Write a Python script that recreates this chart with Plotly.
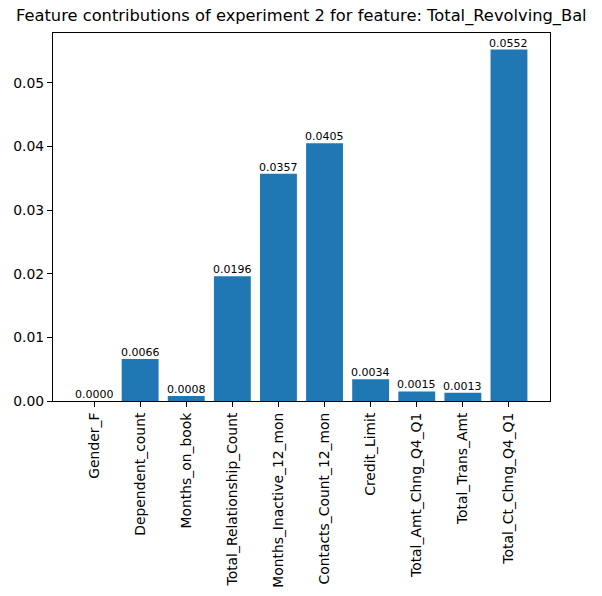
import plotly.graph_objects as go

features = ["Gender_F", "Dependent_count", "Months_on_book", "Total_Relationship_Count",
            "Months_Inactive_12_mon", "Contacts_Count_12_mon", "Credit_Limit",
            "Total_Amt_Chng_Q4_Q1", "Total_Trans_Amt", "Total_Ct_Chng_Q4_Q1"]
contributions = [0.0000, 0.0066, 0.0008, 0.0196, 0.0357, 0.0405, 0.0034, 0.0015, 0.0013, 0.0552]
y_ticks = [0.00, 0.01, 0.02, 0.03, 0.04, 0.05]

title = "Feature contributions of experiment 2 for feature: Total_Revolving_Bal"

positions = list(range(len(features)))

fig = go.Figure(go.Bar(
    x=positions, y=contributions,
    width=0.8, marker=dict(color="#1f77b4", line=dict(width=0)),
))

# value labels sitting right on top of each bar
for xi, v in zip(positions, contributions):
    fig.add_annotation(x=xi, y=v, text=f"{v:.4f}", showarrow=False,
                       xanchor="center", yanchor="bottom", yshift=-2,
                       font=dict(family="DejaVu Sans", size=11, color="black"))

axis_style = dict(showline=True, linecolor="black", linewidth=1.1, mirror=True,
                  ticks="outside", ticklen=5, tickwidth=1.1, tickcolor="black",
                  showgrid=False, zeroline=False, automargin=False,
                  tickfont=dict(family="DejaVu Sans", size=13.9, color="black"))

fig.update_xaxes(range=[-0.89, 9.89], tickmode="array",
                 tickvals=positions, ticktext=features,
                 tickangle=-90, **axis_style)
fig.update_yaxes(range=[0, 0.0578], tickmode="array", tickvals=y_ticks,
                 tickformat=".2f", **axis_style)

fig.add_annotation(text=title, x=0.5, y=1, xref="paper", yref="paper",
                   xanchor="center", yanchor="bottom", yshift=5, showarrow=False,
                   font=dict(family="DejaVu Sans", size=16.3, color="black"))

# the page adds an 8px body margin, so the margins are shifted to compensate
fig.update_layout(width=602, height=596, plot_bgcolor="white", paper_bgcolor="white",
                  margin=dict(l=45, r=60, t=25, b=203), showlegend=False,
                  font=dict(family="DejaVu Sans"))

fig.write_html("out.html")
